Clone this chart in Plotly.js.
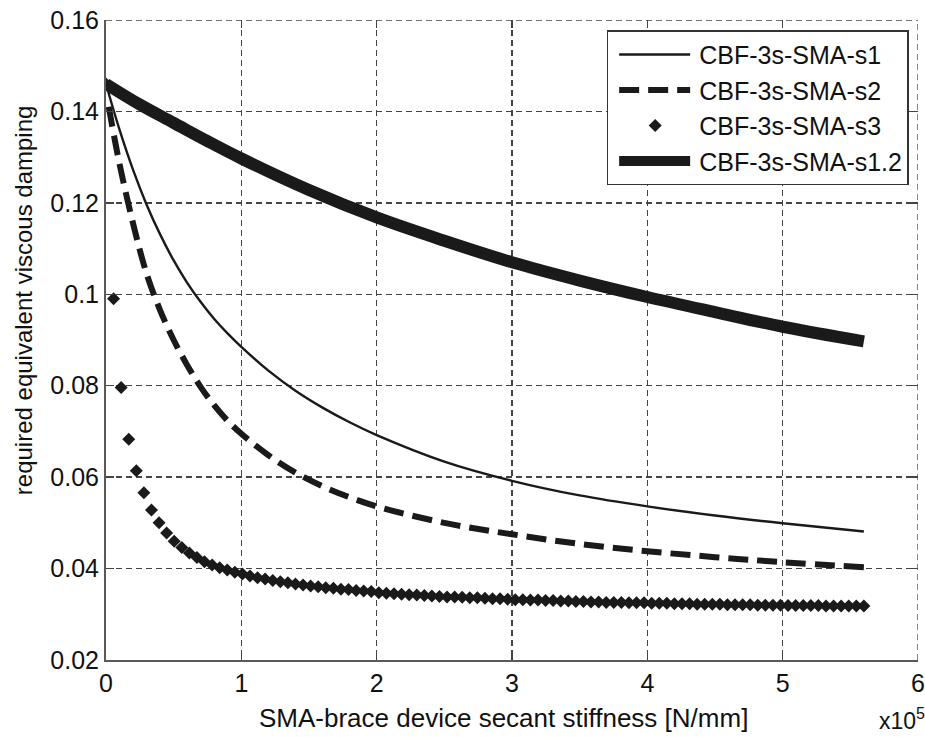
<!DOCTYPE html>
<html>
<head>
<meta charset="utf-8">
<script src="https://cdn.plot.ly/plotly-3.0.1.min.js"></script>
<style>html,body{margin:0;padding:0;background:#fff;}#chart{width:925px;height:737px;}</style>
</head>
<body>
<div id="chart"></div>
<script>
// Data (stiffness in units of 1e5 N/mm, damping ratio)
const s1X = [0, 0.1, 0.2, 0.3, 0.4, 0.5, 0.6, 0.7, 0.8, 0.9, 1.0, 1.2, 1.4, 1.6, 1.8, 2.0, 2.5, 3.0, 3.5, 4.0, 4.5, 5.0, 5.6];
const s1Y = [0.146, 0.1360, 0.1272, 0.1196, 0.1131, 0.1074, 0.1025, 0.0983, 0.0946, 0.0914, 0.0885, 0.0833, 0.0789, 0.0752, 0.0720, 0.0692, 0.0634, 0.0592, 0.0560, 0.0536, 0.0516, 0.0499, 0.0481];

const s2X = [0.02, 0.1, 0.2, 0.3, 0.4, 0.5, 0.6, 0.7, 0.8, 0.9, 1.0, 1.2, 1.4, 1.6, 1.8, 2.0, 2.5, 3.0, 3.5, 4.0, 4.5, 5.0, 5.6];
const s2Y = [0.141, 0.1285, 0.1155, 0.1045, 0.0965, 0.0900, 0.0845, 0.0797, 0.0757, 0.0723, 0.0695, 0.0648, 0.0610, 0.0580, 0.0556, 0.0536, 0.0500, 0.0475, 0.0454, 0.0438, 0.0425, 0.0414, 0.0403];

const s3Step = 0.056; // sampling step of the dotted series
const s3Y = [0.146, 0.099, 0.0796, 0.0683, 0.0614, 0.0566, 0.0528, 0.0500, 0.0478, 0.0460,
  0.0446, 0.0434, 0.0424, 0.0415, 0.0408, 0.0402, 0.0397, 0.0392, 0.0388, 0.0384,
  0.0380, 0.0377, 0.0374, 0.0371, 0.0369, 0.0366, 0.0364, 0.0362, 0.0360, 0.0358,
  0.0357, 0.0355, 0.0354, 0.0352, 0.0351, 0.0350, 0.0347, 0.0346, 0.0345, 0.0344,
  0.0343, 0.0342, 0.0341, 0.0340, 0.0339, 0.0338, 0.0338, 0.0337, 0.0336, 0.0336,
  0.0335, 0.0334, 0.0334, 0.0333, 0.0332, 0.0332, 0.0331, 0.0331, 0.0330, 0.0330,
  0.0329, 0.0329, 0.0328, 0.0328, 0.0327, 0.0327, 0.0326, 0.0326, 0.0326, 0.0325,
  0.0325, 0.0325, 0.0324, 0.0324, 0.0324, 0.0323, 0.0323, 0.0323, 0.0322, 0.0322,
  0.0322, 0.0322, 0.0321, 0.0321, 0.0321, 0.0321, 0.0320, 0.0320, 0.0320, 0.0320,
  0.0319, 0.0319, 0.0319, 0.0319, 0.0319, 0.0318, 0.0318, 0.0318, 0.0318, 0.0318, 0.0318];
const s3X = s3Y.map((_, i) => +(i * s3Step).toFixed(3));

const s12X = [0, 0.25, 0.5, 0.75, 1.0, 1.5, 2.0, 2.5, 3.0, 3.5, 4.0, 4.5, 5.0, 5.6];
const s12Y = [0.146, 0.1415, 0.1375, 0.1335, 0.1297, 0.1228, 0.1168, 0.1117, 0.1070, 0.1030, 0.0994, 0.0961, 0.0929, 0.0897];

const seriesNames = ['CBF-3s-SMA-s1', 'CBF-3s-SMA-s2', 'CBF-3s-SMA-s3', 'CBF-3s-SMA-s1.2'];
const xTicks = [0, 1, 2, 3, 4, 5, 6];
const yTicks = [0.02, 0.04, 0.06, 0.08, 0.1, 0.12, 0.14, 0.16];
const xRange = [0, 6];
const yRange = [0.02, 0.16];

const ink = '#1a1a1a';
const gridColor = '#444';
const FONT = 'Liberation Sans, Arial, Helvetica, sans-serif';

const traces = [
  {x: s1X, y: s1Y, name: seriesNames[0], type: 'scatter', mode: 'lines',
   line: {color: ink, width: 2.4, shape: 'spline', smoothing: 1}},
  {x: s2X, y: s2Y, name: seriesNames[1], type: 'scatter', mode: 'lines',
   line: {color: ink, width: 6, dash: '20px,9px', shape: 'spline', smoothing: 1}},
  {x: s3X, y: s3Y, name: seriesNames[2], type: 'scatter', mode: 'markers',
   marker: {symbol: 'diamond', size: 10, color: ink}},
  {x: s12X, y: s12Y, name: seriesNames[3], type: 'scatter', mode: 'lines',
   line: {color: ink, width: 12, shape: 'spline', smoothing: 1}},
  // carrier for the mirrored (top/right) tick axes
  {x: [null], y: [null], xaxis: 'x2', yaxis: 'y2', type: 'scatter', mode: 'markers',
   showlegend: false, hoverinfo: 'skip'}
];

const gridCommon = {
  showgrid: true, gridcolor: gridColor, gridwidth: 1.3, griddash: '6px,4px',
  zeroline: false, showline: true, linecolor: '#5a5a5a', linewidth: 2,
  ticks: 'inside', ticklen: 8, tickwidth: 1.5, tickcolor: '#444',
  tickfont: {family: FONT, size: 25, color: '#111'}
};
const mirrorCommon = {
  showticklabels: false, showgrid: false, zeroline: false, showline: false,
  ticks: 'inside', ticklen: 8, tickwidth: 1.5, tickcolor: '#444'
};

const layout = {
  width: 925, height: 737,
  margin: {l: 106, r: 7, t: 20, b: 77},
  paper_bgcolor: '#fff', plot_bgcolor: '#fff',
  font: {family: FONT, color: '#111'},
  showlegend: true,
  legend: {
    x: 0.9885, xanchor: 'right', y: 0.984, yanchor: 'top',
    bgcolor: '#fff', bordercolor: '#333', borderwidth: 1.5,
    font: {family: FONT, size: 25, color: '#111'},
    itemwidth: 81
  },
  xaxis: Object.assign({}, gridCommon, {
    range: xRange, tickvals: xTicks, ticktext: xTicks.map(String), ticklabeloverflow: 'allow'
  }),
  yaxis: Object.assign({}, gridCommon, {
    range: yRange, tickvals: yTicks, ticktext: yTicks.map(String)
  }),
  xaxis2: Object.assign({}, mirrorCommon, {overlaying: 'x', side: 'top', anchor: 'y2', range: xRange, tickvals: xTicks}),
  yaxis2: Object.assign({}, mirrorCommon, {overlaying: 'y', side: 'right', anchor: 'x2', range: yRange, tickvals: yTicks}),
  shapes: [
    // dashed grid lines at the upper ends of both axes (box edges)
    {type: 'line', xref: 'x', yref: 'paper', x0: xRange[1], x1: xRange[1], y0: 0, y1: 1,
     line: {color: gridColor, width: 1.3, dash: '6px,4px'}},
    {type: 'line', xref: 'paper', yref: 'y', x0: 0, x1: 1, y0: yRange[1], y1: yRange[1],
     line: {color: gridColor, width: 1.3, dash: '6px,4px'}}
  ],
  annotations: [
    {xref: 'paper', yref: 'paper', x: 0.489, y: -0.0906, xanchor: 'center', yanchor: 'middle',
     text: 'SMA-brace device secant stiffness [N/mm]', showarrow: false,
     font: {family: FONT, size: 26, color: '#111'}},
    {xref: 'paper', yref: 'paper', x: -0.102, y: 0.5625, xanchor: 'center', yanchor: 'middle',
     textangle: -90, text: 'required equivalent viscous damping', showarrow: false,
     font: {family: FONT, size: 24, color: '#111'}},
    {xref: 'paper', yref: 'paper', x: 0.980, y: -0.092, xanchor: 'center', yanchor: 'middle',
     text: 'x10<sup>5</sup>', showarrow: false, font: {family: FONT, size: 23, color: '#111'}}
  ]
};

Plotly.newPlot('chart', traces, layout, {displayModeBar: false, staticPlot: true}).then(function (gd) {
  // lengthen the legend samples to match the reference
  try {
    gd.querySelectorAll('.legend .traces').forEach(function (g) {
      g.querySelectorAll('.legendlines path').forEach(function (p) { p.setAttribute('d', 'M11,0h71'); });
      g.querySelectorAll('.legendpoints path.scatterpts').forEach(function (p) { p.setAttribute('transform', 'translate(47,0)'); });
    });
  } catch (e) {}
});
</script>
</body>
</html>
